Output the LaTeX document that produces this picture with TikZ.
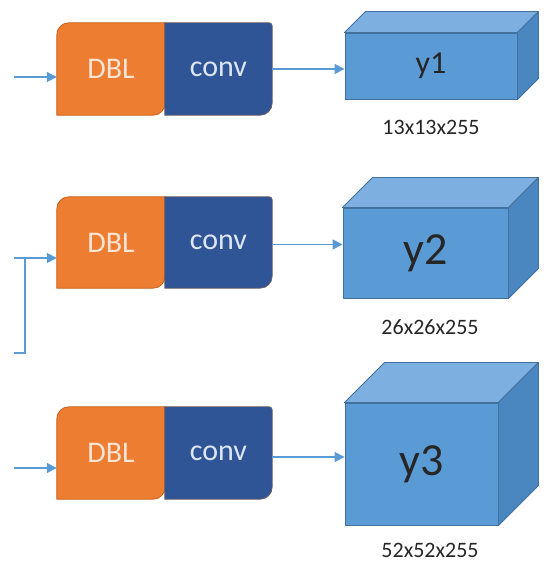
\documentclass[tikz,border=0pt]{standalone}
\usepackage{fontspec}
\setmainfont{Carlito}
\usetikzlibrary{arrows.meta,backgrounds}

\definecolor{dblorange}{HTML}{ED7D31}
\definecolor{dbledge}{HTML}{C55A11}
\definecolor{dbltext}{HTML}{FCE4D6}
\definecolor{convblue}{HTML}{2F5597}
\definecolor{convedge}{HTML}{6E5A5A}
\definecolor{convtext}{HTML}{DDE6F4}
\definecolor{cubefront}{HTML}{5B9BD5}
\definecolor{cubetop}{HTML}{7DB0E0}
\definecolor{cubeside}{HTML}{4A86C0}
\definecolor{cubeedge}{HTML}{41719C}
\definecolor{flow}{HTML}{5B9BD5}
\definecolor{labelgray}{HTML}{262626}

\tikzset{
  blockbox/.style={inner sep=0pt, minimum width=107pt, minimum height=92pt,
    font=\fontsize{30}{36}\selectfont},
  dblbox/.style={blockbox, text=dbltext},
  convbox/.style={blockbox, text=convtext},
  cubeface/.style={draw=cubeedge, line width=0.9pt, line join=round},
  frontface/.style={cubeface, fill=cubefront, inner sep=0pt, text=labelgray},
  dims/.style={text=labelgray, font=\fontsize{22}{26}\selectfont},
  flowline/.style={draw=flow, line width=1.6pt},
  flowarrow/.style={flowline, -{Triangle[length=10pt,width=10pt]}},
}

% DBL block: rounded top-left and bottom-right corners
\newcommand{\dblshape}[1]{%
  \filldraw[fill=dblorange, draw=dbledge, line width=0.7pt]
    (#1.south west) -- ([yshift=-12pt]#1.north west)
    arc[start angle=180, end angle=90, radius=12pt]
    -- (#1.north east) -- ([yshift=12pt]#1.south east)
    arc[start angle=0, end angle=-90, radius=12pt]
    -- cycle;}
% conv block: rounded bottom-right corner
\newcommand{\convshape}[1]{%
  \filldraw[fill=convblue, draw=convedge, line width=0.7pt]
    (#1.south west) -- (#1.north west)
    -- ([xshift=-3pt]#1.north east)
    arc[start angle=90, end angle=0, radius=3pt]
    -- ([yshift=12pt]#1.south east)
    arc[start angle=0, end angle=-90, radius=12pt]
    -- cycle;}
% top and side faces of an output cube
\newcommand{\cubefaces}[2]{%
  \filldraw[cubeface, fill=cubetop]
    (#1.north west) -- ++(#2,#2) -- ([shift={(#2,#2)}]#1.north east)
    -- (#1.north east) -- cycle;
  \filldraw[cubeface, fill=cubeside]
    (#1.north east) -- ++(#2,#2) -- ([shift={(#2,#2)}]#1.south east)
    -- (#1.south east) -- cycle;}

\begin{document}
\begin{tikzpicture}[x=1pt, y=1pt]
  \useasboundingbox (0,0) rectangle (557,562);

  % ---- blocks ----
  \node[dblbox, minimum width=108pt] (d1) at (111,493) {DBL};
  \node[convbox] (c1) at (218.5,493) {conv};
  \node[dblbox, minimum width=108pt, minimum height=91pt] (d2) at (111,319.5) {DBL};
  \node[convbox, minimum height=91pt] (c2) at (218.5,319.5) {conv};
  \node[dblbox, minimum width=108pt] (d3) at (111,109) {DBL};
  \node[convbox] (c3) at (218.5,109) {conv};

  % ---- output cubes ----
  \node[frontface, minimum width=172pt, minimum height=66pt,
        font=\fontsize{32}{38}\selectfont] (y1) at (431,496) {y1};
  \node[frontface, minimum width=165pt, minimum height=90pt,
        font=\fontsize{46}{54}\selectfont] (y2) at (425.5,309) {y2};
  \node[frontface, minimum width=153pt, minimum height=122pt,
        font=\fontsize{46}{54}\selectfont] (y3) at (421.5,98) {y3};

  \node[dims] (s1) at (431,435) {13x13x255};
  \node[dims] (s2) at (430,235) {26x26x255};
  \node[dims] (s3) at (430,12) {52x52x255};

  \begin{scope}[on background layer]
    \dblshape{d1} \convshape{c1}
    \dblshape{d2} \convshape{c2}
    \dblshape{d3} \convshape{c3}
    \cubefaces{y1}{21}
    \cubefaces{y2}{30}
    \cubefaces{y3}{40}
  \end{scope}

  % ---- inputs ----
  \coordinate (in1) at (14,485);
  \coordinate (in2) at (14,304);
  \coordinate (j2) at (25,304);
  \coordinate (b2) at (14,209);
  \coordinate (in3) at (14,94);

  \draw[flowarrow] (in1) -- (in1 -| d1.west);
  \draw[flowarrow] (in2) -- (in2 -| d2.west);
  \draw[flowline] (b2) -| (j2);
  \draw[flowarrow] (in3) -- (in3 -| d3.west);

  % ---- outputs ----
  \draw[flowarrow] (c1.east) -- (c1.east -| y1.west);
  \draw[flowarrow] ([yshift=-2pt]c2.east) -- ([yshift=-2pt]c2.east -| y2.west);
  \draw[flowarrow] ([yshift=-4pt]c3.east) -- ([yshift=-4pt]c3.east -| y3.west);
\end{tikzpicture}
\end{document}
